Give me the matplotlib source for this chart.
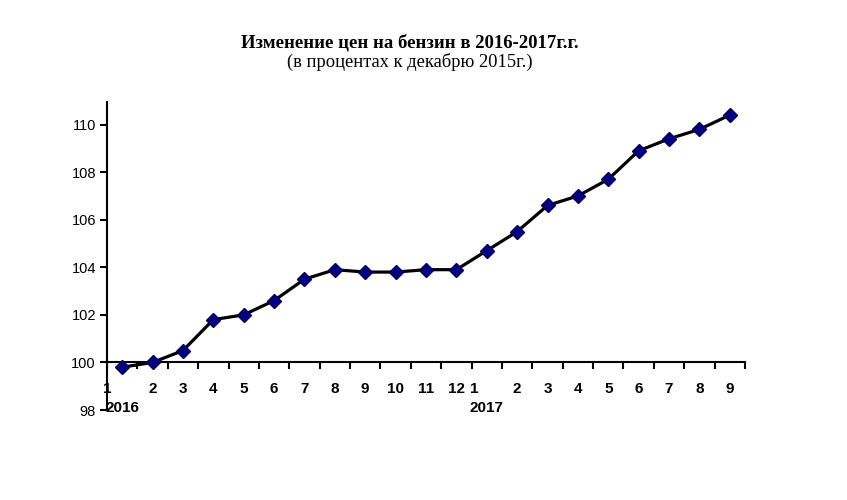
import matplotlib
matplotlib.use("Agg")
import matplotlib.pyplot as plt

months = ["1", "2", "3", "4", "5", "6", "7", "8", "9", "10", "11", "12",
          "1", "2", "3", "4", "5", "6", "7", "8", "9"]
years = ["2016", "2017"]
year_start = [0, 12]
values = [99.8, 100.0, 100.5, 101.8, 102.0, 102.6, 103.5, 103.9, 103.8, 103.8,
          103.9, 103.9, 104.7, 105.5, 106.6, 107.0, 107.7, 108.9, 109.4, 109.8, 110.4]
y_ticks = [98, 100, 102, 104, 106, 108, 110]

fig = plt.figure(figsize=(8.47, 5.0), dpi=100)
ax = fig.add_axes([107/847, 90/500, 638/847, 308/500])

x = list(range(len(values)))
ax.plot(x, values, color="black", lw=2.3, marker="D", ms=7,
        markerfacecolor="#000080", markeredgecolor="#000060", zorder=3)

ax.set_xlim(-0.5, len(values) - 0.5)
ax.set_ylim(98, 110.95)

for s in ["top", "right"]:
    ax.spines[s].set_visible(False)
ax.spines["bottom"].set_position(("data", 100))
ax.spines["left"].set_linewidth(1.5)
ax.spines["bottom"].set_linewidth(1.5)

ax.set_yticks(y_ticks)
ax.set_yticklabels([str(v) for v in y_ticks], fontsize=10.5, family="Liberation Sans")
ax.tick_params(axis="y", length=5, width=1.5, pad=3)

ax.set_xticks([i - 0.5 for i in range(len(values) + 1)])
ax.set_xticklabels([])
ax.tick_params(axis="x", length=5, width=1.5, direction="out")

for i, m in enumerate(months):
    xpos = i - 0.5 if i in year_start else i
    if i == 12:
        xpos = i - 0.4
    ax.annotate(m, xy=(xpos, 100), xytext=(0, -19), textcoords="offset points",
                ha="center", va="center", fontsize=11, fontweight="bold",
                family="Liberation Sans", annotation_clip=False)
for yr, st in zip(years, year_start):
    ax.annotate(yr, xy=(st, 100), xytext=(0, -33), textcoords="offset points",
                ha="center", va="center", fontsize=11, fontweight="bold",
                family="Liberation Sans", annotation_clip=False)

fig.text(410/847, 1 - 43/500, "Изменение цен на бензин в 2016-2017г.г.",
         ha="center", va="center", fontsize=13.5, fontweight="bold", family="Liberation Serif")
fig.text(410/847, 1 - 62/500, "(в процентах к декабрю 2015г.)",
         ha="center", va="center", fontsize=13.3, family="Liberation Serif")

fig.savefig("out.png", dpi=100, facecolor="white")
